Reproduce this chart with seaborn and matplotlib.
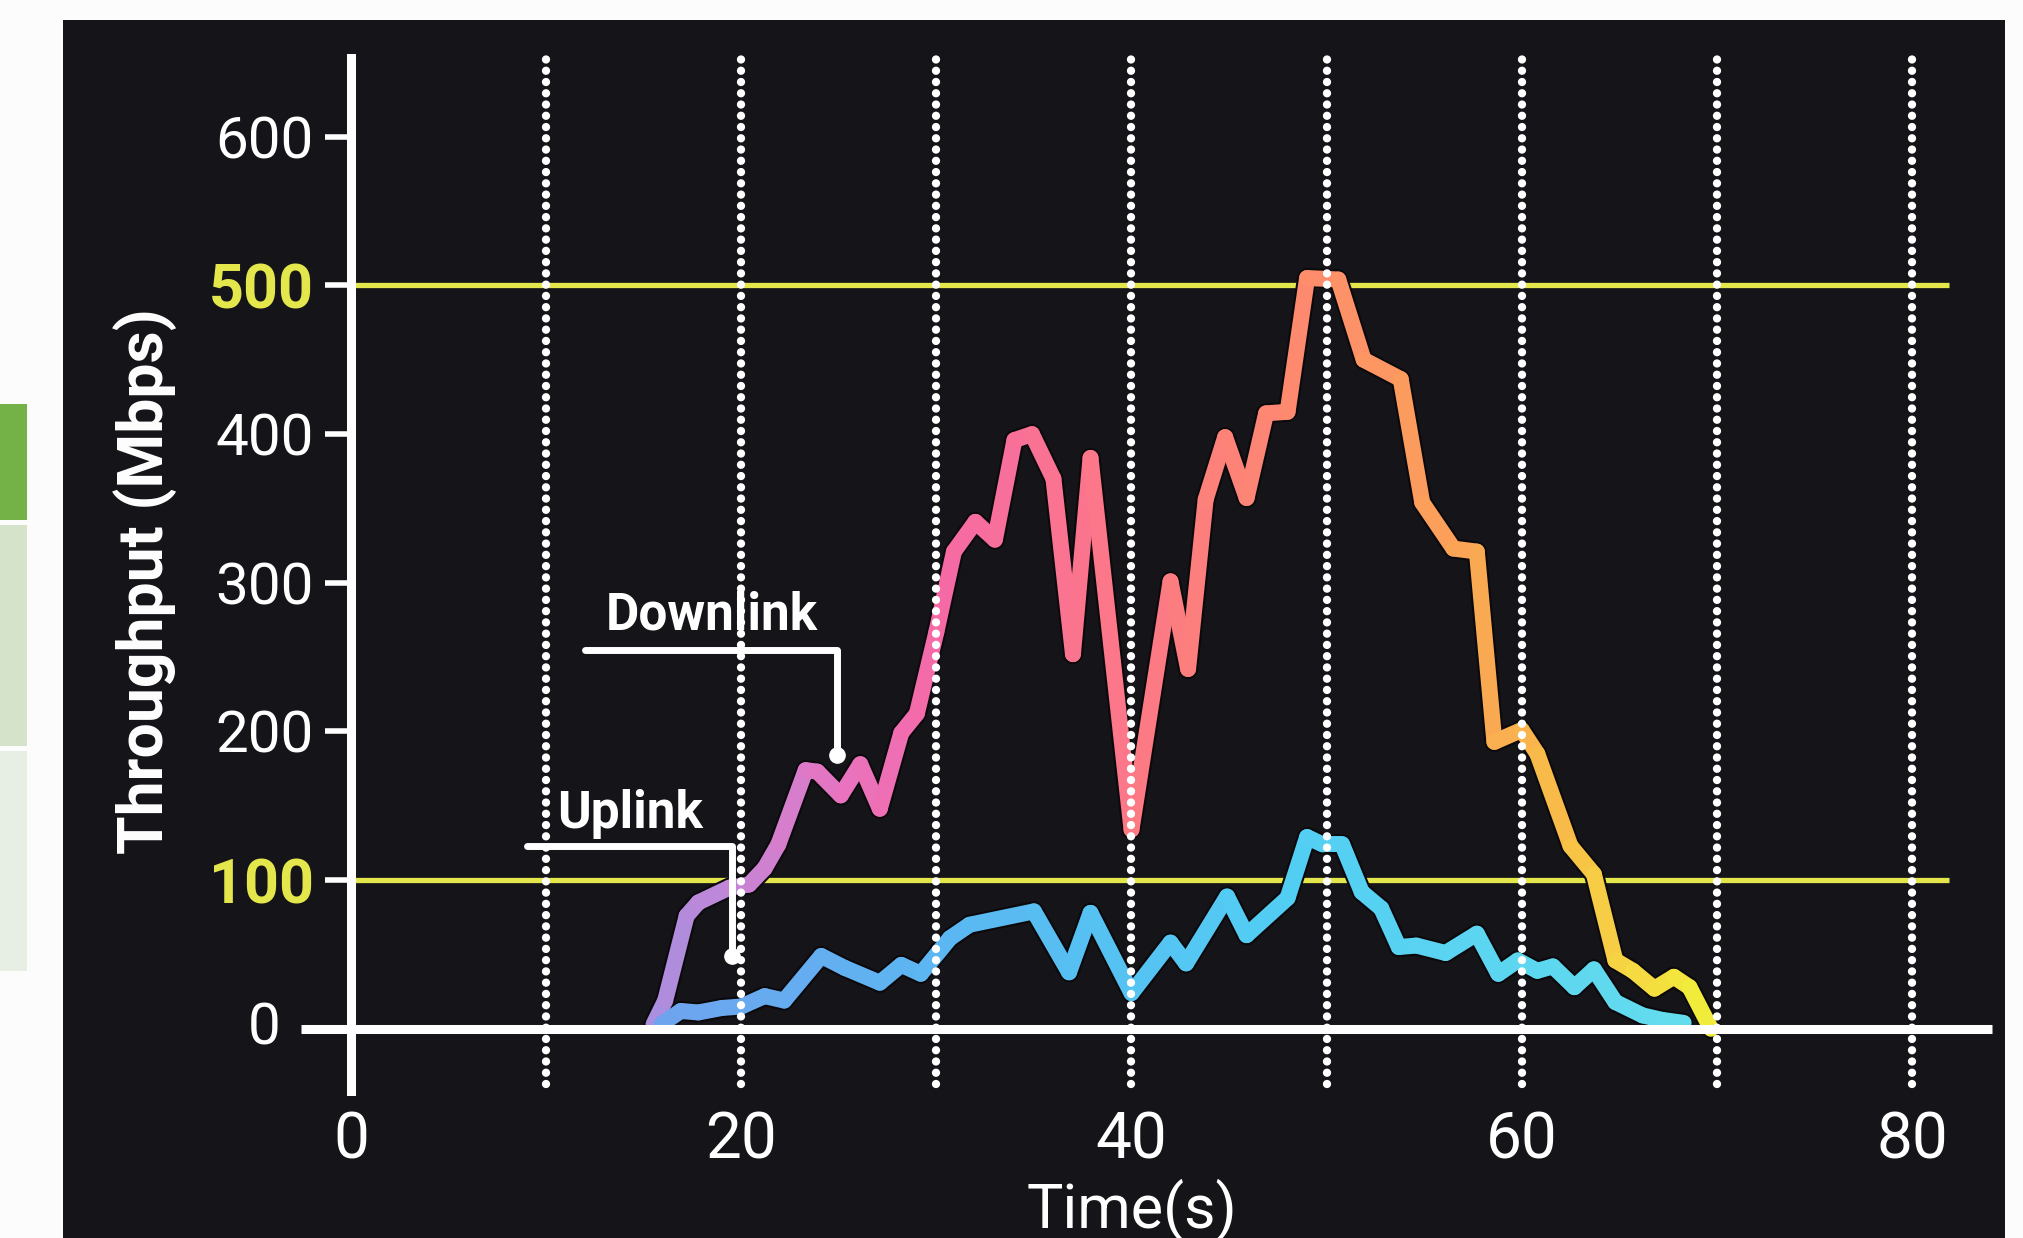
import matplotlib
matplotlib.use("Agg")

import pandas as pd
import matplotlib.pyplot as plt
import seaborn as sns
from matplotlib.colors import LinearSegmentedColormap
from matplotlib.patches import Rectangle

# ---------- data ----------
time_down = [15.5, 16.1, 17.2, 17.8, 19.4, 20.4, 21.2, 21.9, 23.3, 23.9, 25.1, 26.1,
             27.1, 28.2, 29.0, 30.0, 30.9, 32.0, 33.0, 34.0, 34.9, 36.0, 37.0, 37.9,
             40.0, 42.0, 42.9, 43.8, 44.8, 45.9, 46.9, 48.0, 49.0, 50.6, 51.9, 53.8,
             54.9, 56.5, 57.7, 58.6, 60.0, 60.8, 62.5, 63.7, 64.8, 65.7, 66.8, 67.8,
             68.6, 69.7]
tput_down = [3, 19, 76, 85, 95, 97, 108, 124, 174, 173, 157, 178,
             148, 199, 212, 267, 321, 341, 329, 396, 400, 370, 252, 384,
             134, 301, 242, 356, 398, 357, 414, 415, 505, 504, 450, 437,
             354, 323, 321, 193, 201, 185, 123, 104, 46, 39, 27, 35,
             28, 0]

time_up = [15.9, 16.9, 17.8, 19.0, 20.0, 21.2, 22.2, 24.1, 25.3, 27.1, 28.2, 29.2,
           30.7, 31.7, 35.0, 36.8, 37.9, 40.0, 42.0, 42.8, 44.9, 45.9, 48.0, 49.0,
           49.8, 50.8, 51.8, 52.8, 53.7, 54.6, 56.1, 57.7, 58.8, 59.8, 60.8, 61.6,
           62.7, 63.7, 64.8, 66.2, 67.2, 68.3]
tput_up = [3, 12, 11, 14, 15, 22, 19, 49, 41, 31, 43, 37,
           61, 70, 79, 38, 78, 24, 58, 44, 89, 63, 88, 129,
           124, 124, 92, 81, 55, 56, 51, 64, 37, 46, 39, 42,
           28, 40, 18, 9, 6, 4]

x_ticks = [0, 20, 40, 60, 80]
y_ticks = [100, 200, 300, 400, 500, 600]
highlight_levels = [100, 500]
grid_times = [10, 20, 30, 40, 50, 60, 70, 80]

# ---------- style ----------
PANEL = "#141419"
YELLOW = "#e4e74c"
down_stops = [(0.0, "#a98ee0"), (0.09, "#c884d4"), (0.18, "#e873bf"), (0.27, "#f56aa6"),
              (0.45, "#fc7886"), (0.63, "#fd8c6c"), (0.77, "#fba456"), (0.86, "#f8bd48"),
              (0.93, "#f5d842"), (1.0, "#f1ee3a")]
up_stops = [(0.0, "#6fa3ee"), (0.3, "#5ab8f2"), (0.6, "#52cdf3"), (1.0, "#63dcee")]
down_cmap = LinearSegmentedColormap.from_list("down", down_stops)
up_cmap = LinearSegmentedColormap.from_list("up", up_stops)

sns.set_theme(style="dark")
plt.rcParams["font.family"] = ["Roboto", "DejaVu Sans"]


def segment_frame(t, v):
    rows = []
    for i in range(len(t) - 1):
        mid = (t[i] + t[i + 1]) / 2
        rows.append((i, t[i], v[i], mid))
        rows.append((i, t[i + 1], v[i + 1], mid))
    return pd.DataFrame(rows, columns=["seg", "time", "tput", "pos"])


def gradient_line(ax, t, v, cmap):
    base = pd.DataFrame({"time": t, "tput": v})
    sns.lineplot(data=base, x="time", y="tput", color="#0b090c", linewidth=14.5, sort=False,
                 estimator=None, solid_capstyle="round", solid_joinstyle="round",
                 ax=ax, zorder=3)
    sns.lineplot(data=segment_frame(t, v), x="time", y="tput", hue="pos", units="seg",
                 estimator=None, palette=cmap, hue_norm=(t[0], t[-1]), linewidth=11.5,
                 sort=False, legend=False, solid_capstyle="round", ax=ax, zorder=4)


fig = plt.figure(figsize=(20.24, 12.38), dpi=100)
fig.patch.set_facecolor("#fcfcfc")

# dark panel and the bits of slide on the left
fig.add_artist(Rectangle((0.0311, 0.0), 0.9595, 0.9838, transform=fig.transFigure,
                         facecolor=PANEL, edgecolor="none", zorder=0))
for (b, h, c) in [(0.5800, 0.0937, "#74b146"), (0.3974, 0.1785, "#d5e3cb"),
                  (0.2157, 0.1777, "#e7eee3")]:
    fig.add_artist(Rectangle((0.0, b), 0.0133, h, transform=fig.transFigure,
                             facecolor=c, edgecolor="none", zorder=0))

ax = fig.add_axes([0.1433, 0.1034, 0.8424, 0.8643])
ax.set_facecolor("none")
ax.set_xlim(-3.127, 84.26)
ax.set_ylim(-54.6, 665.1)

# dotted vertical guides
vl = ax.vlines(grid_times, -37, 655, colors="white", linewidth=6,
               linestyles=[(0, (0.001, 1.35))], zorder=7)
vl.set_capstyle("round")

# yellow reference levels
ax.hlines(highlight_levels, 0, 81.9, colors=YELLOW, linewidth=3.8, zorder=2)

gradient_line(ax, time_down, tput_down, down_cmap)
gradient_line(ax, time_up, tput_up, up_cmap)

# zero line and y axis
ax.hlines(0, -2.56, 84.1, colors="white", linewidth=6.5, zorder=8)
for s in ["top", "right", "bottom"]:
    ax.spines[s].set_visible(False)
ax.spines["left"].set_position(("data", 0))
ax.spines["left"].set_bounds(-42, 653)
ax.spines["left"].set_color("white")
ax.spines["left"].set_linewidth(6.5)
ax.spines["left"].set_zorder(8)

ax.set_yticks(y_ticks)
ax.set_yticklabels([str(v) for v in y_ticks])
ax.tick_params(axis="y", left=True, length=19, width=4, color="white", pad=8,
               labelsize=42, labelcolor="white")
for tick, val in zip(ax.yaxis.get_major_ticks(), y_ticks):
    if val in highlight_levels:
        tick.tick1line.set_color(YELLOW)
        tick.label1.set_color(YELLOW)
        tick.label1.set_fontweight("bold")
        tick.label1.set_fontsize(44)
ax.text(-3.6, 0, "0", ha="right", va="center", fontsize=42, color="white")

ax.set_xticks(x_ticks)
ax.set_xticklabels([str(v) for v in x_ticks])
ax.tick_params(axis="x", bottom=True, length=0, pad=0, labelsize=46, labelcolor="white")
ax.grid(False)

ax.set_xlabel("Time(s)", fontsize=44, color="white")
ax.xaxis.set_label_coords(0.4935, -0.064)
ax.set_ylabel("Throughput (Mbps)", fontsize=45, color="white", fontweight="bold")
ax.yaxis.label.set_va("center")
ax.yaxis.set_label_coords(-0.085, 0.494)

# callouts
ax.plot([12.0, 24.9, 24.9], [255, 255, 184], color="white", lw=5, zorder=6)
ax.plot([24.9], [184], "o", color="white", ms=11, zorder=6)
ax.text(18.5, 261, "Downlink", ha="center", va="bottom", fontsize=37,
        fontweight="bold", color="white", zorder=5)
ax.plot([9.0, 19.5, 19.5], [123, 123, 49], color="white", lw=5, zorder=6)
ax.plot([19.5], [49], "o", color="white", ms=11, zorder=6)
ax.text(14.3, 128, "Uplink", ha="center", va="bottom", fontsize=37,
        fontweight="bold", color="white", zorder=5)

fig.savefig("out.png", dpi=100, facecolor=fig.get_facecolor())
